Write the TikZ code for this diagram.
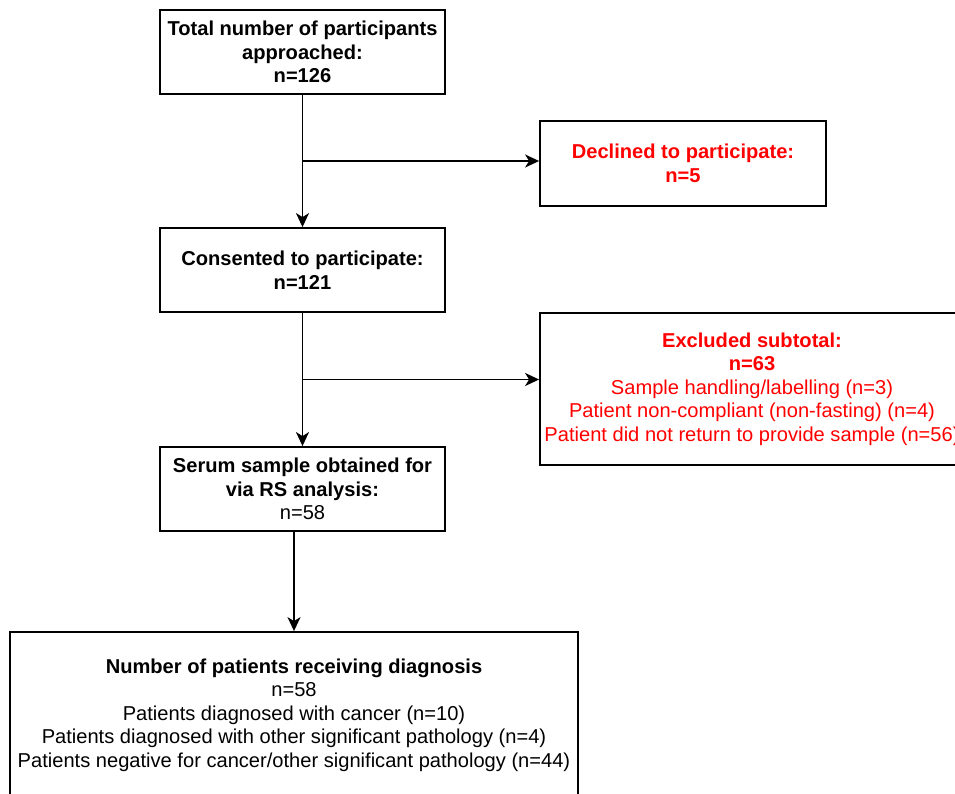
\documentclass[tikz,border=0pt]{standalone}
\usepackage{fontspec}
\setmainfont{Liberation Sans}
\usetikzlibrary{arrows.meta,positioning,calc}

\begin{document}
\begin{tikzpicture}[x=1pt,y=-1pt,
  box/.style={draw,line width=1.8pt,align=center,inner sep=0pt,
    font=\fontsize{20.1}{23.5}\selectfont},
  smallbox/.style={box,minimum width=285,minimum height=84},
  redbox/.style={box,text=red},
  arr/.style={line width=1.8pt,-{Stealth[length=14pt,width=13pt,inset=4pt]}}]
			\useasboundingbox (0,0) rectangle (955,794);
			\node[smallbox] (total) at (302.5,52) {\textbf{Total number of participants}\\\textbf{approached:}\\\textbf{n=126}};
			\node[smallbox] (consented) at (302.5,270) {\textbf{Consented to participate:}\\\textbf{n=121}};
			\node[smallbox] (serum) at (302.5,489) {\textbf{Serum sample obtained for}\\\textbf{via RS analysis:}\\n=58};
			\node[redbox,minimum width=286,minimum height=85] (declined) at (683,163.5) {\textbf{Declined to participate:}\\\textbf{n=5}};
			\node[redbox,minimum width=424,minimum height=152] (excluded) at (752,389) {\textbf{Excluded subtotal:}\\\textbf{n=63}\\Sample handling/labelling (n=3)\\Patient non-compliant (non-fasting) (n=4)\\Patient did not return to provide sample (n=56)};
			\node[box,minimum width=568,minimum height=166] (diagnosis) at (294,715) {\textbf{Number of patients receiving diagnosis}\\n=58\\Patients diagnosed with cancer (n=10)\\Patients diagnosed with other significant pathology (n=4)\\Patients negative for cancer/other significant pathology (n=44)};
			
			\coordinate (split1) at ($(total.south)!0.5!(consented.north)$);
			\coordinate (split2) at ($(consented.south)!0.5!(serum.north)$);
			
			\draw[arr] (total)--(consented);
			\draw[arr] (split1)--(split1 -| declined.west);
			\draw[arr] (consented)--(serum);
			\draw[arr] (split2)--(split2 -| excluded.west);
			\draw[arr] (serum.south -| diagnosis.north)--(diagnosis.north);
		\end{tikzpicture}
\end{document}
